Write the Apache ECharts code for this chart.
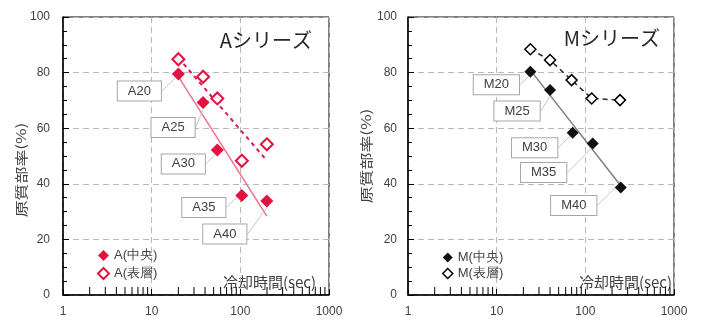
<!DOCTYPE html>
<html>
<head>
<meta charset="utf-8">
<script src="https://cdn.jsdelivr.net/npm/echarts@6/dist/echarts.min.js"></script>
<style>
html,body{margin:0;padding:0;background:#fff;}
#c{width:708px;height:322px;}
</style>
</head>
<body>
<div id="c"></div>
<script>
// ---- data ----
const xTickValues = [1, 10, 100, 1000];
const yTickValues = [0, 20, 40, 60, 80, 100];
const xMinorTicks = [2, 3, 4, 5, 6, 7, 8, 9, 20, 30, 40, 50, 60, 70, 80, 90, 200, 300, 400, 500, 600, 700, 800, 900];

const aCenterX = [20, 38, 55, 104, 199];
const aCenterY = [79.5, 69.2, 52.2, 35.8, 33.8];
const aSurfX = [20, 38, 55, 104, 199];
const aSurfY = [84.8, 78.5, 70.7, 48.3, 54.2];
const aLabels = ['A20', 'A25', 'A30', 'A35', 'A40'];

const mCenterX = [24, 40, 72, 121, 251];
const mCenterY = [80.3, 73.7, 58.4, 54.5, 38.7];
const mSurfX = [24, 40, 70, 118, 246];
const mSurfY = [88.4, 84.5, 77.3, 70.7, 70.1];
const mLabels = ['M20', 'M25', 'M30', 'M35', 'M40'];

const seriesNames = ['A(中央)', 'A(表層)', 'M(中央)', 'M(表層)'];
const titles = ['Aシリーズ', 'Mシリーズ'];
const xName = '冷却時間(sec)';
const yName = '原質部率(%)';

// ---- styles (label offsets in px) ----
const aLabelOffsets = [[-39, 17], [-30, 25], [-34, 14], [-38, 12], [-42, 33]];
const mLabelOffsets = [[-34, 13], [-33, 21], [-38, 15], [-49, 29], [-47, 18]];

const RED = '#e3123f';

function pairs(xs, ys) { return xs.map((x, i) => [x, ys[i]]); }

// least squares trendline in log10(x) (Excel logarithmic trendline)
function logTrend(xs, ys) {
  const lx = xs.map(v => Math.log10(v));
  const n = lx.length;
  const mx = lx.reduce((a, b) => a + b, 0) / n;
  const my = ys.reduce((a, b) => a + b, 0) / n;
  let sxy = 0, sxx = 0;
  for (let i = 0; i < n; i++) { sxy += (lx[i] - mx) * (ys[i] - my); sxx += (lx[i] - mx) ** 2; }
  const b = sxy / sxx, a = my - b * mx;
  const x0 = Math.min(...xs), x1 = Math.max(...xs);
  return [[x0, a + b * Math.log10(x0)], [x1, a + b * Math.log10(x1)]];
}

const labelBox = {
  show: true,
  position: 'inside',
  fontSize: 13,
  color: '#404040',
  fontFamily: 'Liberation Sans, Arial, sans-serif',
  backgroundColor: '#fff',
  borderColor: '#a6a6a6',
  borderWidth: 1,
  padding: [3, 10],
  formatter: p => p.data.label
};

function labeled(xs, ys, labels) {
  return xs.map((x, i) => ({ value: [x, ys[i]], label: labels[i] }));
}

const axisFont = { fontSize: 12, color: '#404040', fontFamily: 'Liberation Sans, Arial, sans-serif' };

function makeX(gridIndex) {
  return {
    type: 'log', logBase: 10, min: xTickValues[0], max: xTickValues[xTickValues.length - 1],
    gridIndex,
    axisLine: { lineStyle: { color: '#000', width: 1.5 } },
    axisTick: { inside: true, length: 6, lineStyle: { color: '#000' } },
    axisLabel: Object.assign({ margin: 11, formatter: v => String(Math.round(v)) }, axisFont),
    splitLine: { show: true, lineStyle: { color: '#b8b8b8', type: [6, 4] } }
  };
}
function makeY(gridIndex, margin) {
  return {
    type: 'value', min: yTickValues[0], max: yTickValues[yTickValues.length - 1], interval: 20,
    gridIndex,
    axisLine: { show: true, lineStyle: { color: '#000', width: 1.5 } },
    axisTick: { show: true, inside: true, length: 6, lineStyle: { color: '#000' } },
    minorTick: { show: true, splitNumber: 4, length: 4, lineStyle: { color: '#000' } },
    axisLabel: Object.assign({ margin }, axisFont),
    splitLine: { show: true, lineStyle: { color: '#b8b8b8', type: [6, 4] } }
  };
}

// log minor ticks drawn as tiny bars sitting on the x axis
function minorTickSeries(idx) {
  return {
    type: 'scatter', xAxisIndex: idx, yAxisIndex: idx, silent: true, z: 6, clip: false,
    symbol: 'rect', symbolSize: [1, 8], symbolOffset: [0, -4],
    itemStyle: { color: '#000', opacity: 1 },
    data: xMinorTicks.map(v => [v, yTickValues[0]])
  };
}

const chart = echarts.init(document.getElementById('c'), null, { renderer: 'canvas' });

const option = {
  animation: false,
  backgroundColor: '#fff',
  grid: [
    { left: 63, top: 17, width: 266, height: 278, show: true, borderColor: '#000', borderWidth: 1 },
    { left: 408, top: 17, width: 266, height: 278, show: true, borderColor: '#000', borderWidth: 1 }
  ],
  xAxis: [makeX(0), makeX(1)],
  yAxis: [makeY(0, 13), makeY(1, 11)],
  legend: [
    {
      orient: 'vertical', left: 92, top: 244, itemWidth: 11, itemHeight: 11, itemGap: 5,
      textStyle: { fontSize: 13, color: '#404040' },
      data: [
        { name: seriesNames[0], icon: 'diamond' },
        { name: seriesNames[1], icon: 'diamond' }
      ]
    },
    {
      orient: 'vertical', left: 437, top: 246, itemWidth: 10, itemHeight: 10, itemGap: 3,
      textStyle: { fontSize: 13, color: '#404040' },
      data: [
        { name: seriesNames[2], icon: 'diamond' },
        { name: seriesNames[3], icon: 'diamond', itemStyle: { color: '#fff', borderColor: '#000', borderWidth: 1.5 } }
      ]
    }
  ],
  graphic: [
    { type: 'text', x: 312, y: 40, style: { text: titles[0], font: '20px "Noto Sans CJK JP", sans-serif', fill: '#262626', textAlign: 'right', textVerticalAlign: 'middle' } },
    { type: 'text', x: 660, y: 38, style: { text: titles[1], font: '20px "Noto Sans CJK JP", sans-serif', fill: '#262626', textAlign: 'right', textVerticalAlign: 'middle' } },
    { type: 'text', x: 316, y: 282, style: { text: xName, font: '15px "Noto Sans CJK JP", sans-serif', fill: '#404040', textAlign: 'right', textVerticalAlign: 'middle' } },
    { type: 'text', x: 672, y: 282, style: { text: xName, font: '15px "Noto Sans CJK JP", sans-serif', fill: '#404040', textAlign: 'right', textVerticalAlign: 'middle' } },
    { type: 'text', x: 21, y: 170, rotation: Math.PI / 2, scaleX: 1.3, style: { text: yName, font: '13px "Noto Sans CJK JP", sans-serif', fill: '#404040', textAlign: 'center', textVerticalAlign: 'middle' } },
    { type: 'text', x: 366, y: 156, rotation: Math.PI / 2, scaleX: 1.3, style: { text: yName, font: '13px "Noto Sans CJK JP", sans-serif', fill: '#404040', textAlign: 'center', textVerticalAlign: 'middle' } }
  ],
  series: [
    // A trendlines
    { type: 'line', xAxisIndex: 0, yAxisIndex: 0, data: logTrend(aCenterX, aCenterY), symbol: 'none', silent: true, z: 2,
      lineStyle: { color: '#f0708c', width: 1.5 } },
    { type: 'line', xAxisIndex: 0, yAxisIndex: 0, data: logTrend(aSurfX, aSurfY), symbol: 'none', silent: true, z: 2,
      lineStyle: { color: '#d81b55', width: 2, type: [4, 4] } },
    // A markers
    { name: seriesNames[0], type: 'scatter', xAxisIndex: 0, yAxisIndex: 0, symbol: 'diamond', symbolSize: 13, z: 4,
      itemStyle: { color: RED, opacity: 1 },
      data: labeled(aCenterX, aCenterY, aLabels),
      label: labelBox,
      labelLine: { show: true, lineStyle: { color: '#c8c8c8', width: 1 } },
      labelLayout: p => ({ dx: aLabelOffsets[p.dataIndex][0], dy: aLabelOffsets[p.dataIndex][1] }) },
    { name: seriesNames[1], type: 'scatter', xAxisIndex: 0, yAxisIndex: 0, symbol: 'diamond', symbolSize: 12, z: 4,
      itemStyle: { color: '#fff', borderColor: RED, borderWidth: 2, opacity: 1 },
      data: pairs(aSurfX, aSurfY) },
    // M trendline (centre) and polyline (surface)
    { type: 'line', xAxisIndex: 1, yAxisIndex: 1, data: logTrend(mCenterX, mCenterY), symbol: 'none', silent: true, z: 2,
      lineStyle: { color: '#7f7f7f', width: 1.5 } },
    { name: seriesNames[3], type: 'line', xAxisIndex: 1, yAxisIndex: 1, data: pairs(mSurfX, mSurfY), z: 4,
      symbol: 'diamond', symbolSize: 11, showAllSymbol: true,
      lineStyle: { color: '#262626', width: 1.5, type: [5, 4] },
      itemStyle: { color: '#fff', borderColor: '#000', borderWidth: 1.5 } },
    { name: seriesNames[2], type: 'scatter', xAxisIndex: 1, yAxisIndex: 1, symbol: 'diamond', symbolSize: 12, z: 4,
      itemStyle: { color: '#111', opacity: 1 },
      data: labeled(mCenterX, mCenterY, mLabels),
      label: labelBox,
      labelLine: { show: true, lineStyle: { color: '#c8c8c8', width: 1 } },
      labelLayout: p => ({ dx: mLabelOffsets[p.dataIndex][0], dy: mLabelOffsets[p.dataIndex][1] }) },
    minorTickSeries(0),
    minorTickSeries(1)
  ]
};
chart.setOption(option);
</script>
</body>
</html>
